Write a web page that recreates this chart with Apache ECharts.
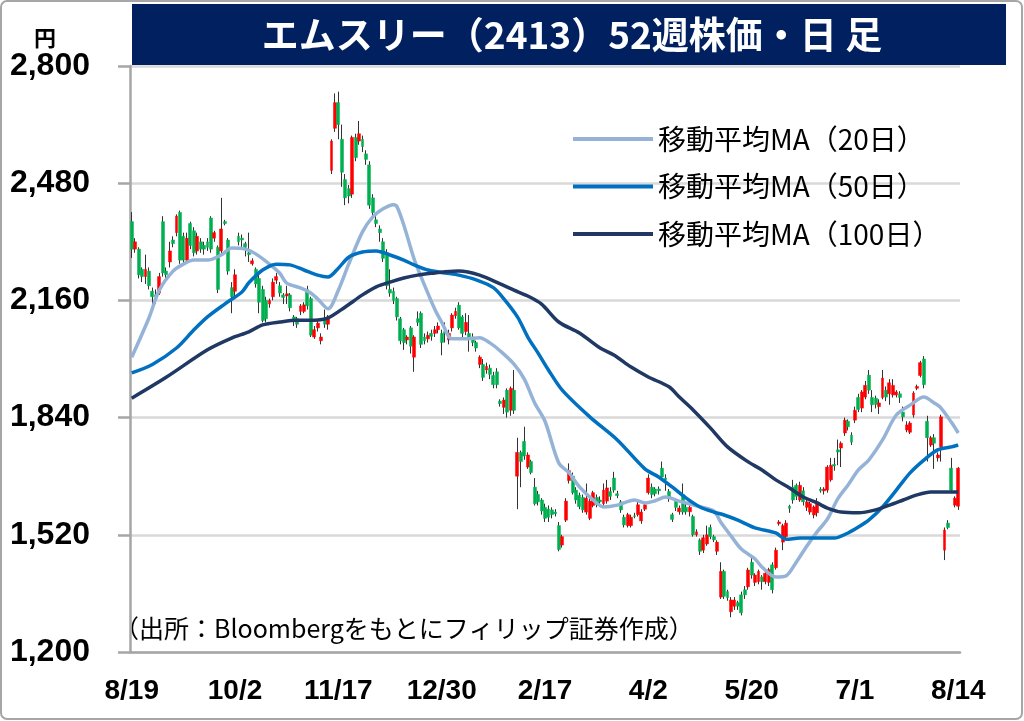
<!DOCTYPE html>
<html>
<head>
<meta charset="utf-8">
<title>エムスリー（2413）52週株価・日足</title>
<script src="https://cdn.jsdelivr.net/npm/echarts@6/dist/echarts.min.js"></script>
<style>
  html, body { margin: 0; padding: 0; background: #fff; }
  #chart { width: 1024px; height: 721px; }
</style>
</head>
<body>
<div id="chart"></div>
<script>
// 日足データ（ローソク足：始値, 終値, 安値, 高値）
var candles = [
    [2375, 2300, 2276, 2401], [2300, 2320, 2290, 2330], [2300, 2230, 2220, 2305], [2245, 2225, 2210, 2250], [2225, 2245, 2205, 2285],
    [2240, 2200, 2190, 2250], [2185, 2170, 2145, 2195], [2175, 2170, 2150, 2190], [2180, 2225, 2175, 2235], [2375, 2235, 2225, 2390],
    [2240, 2230, 2215, 2250], [2265, 2295, 2250, 2320], [2325, 2315, 2305, 2335], [2345, 2390, 2335, 2395], [2400, 2270, 2260, 2405],
    [2335, 2270, 2260, 2345], [2270, 2330, 2265, 2345], [2370, 2310, 2300, 2375], [2350, 2290, 2280, 2360], [2295, 2335, 2285, 2345],
    [2320, 2300, 2290, 2330], [2310, 2300, 2285, 2320], [2320, 2305, 2295, 2330], [2385, 2300, 2290, 2390], [2330, 2345, 2320, 2350],
    [2305, 2190, 2180, 2310], [2295, 2355, 2285, 2440], [2375, 2370, 2365, 2380], [2325, 2240, 2230, 2330], [2195, 2170, 2125, 2210],
    [2185, 2230, 2165, 2245], [2335, 2320, 2310, 2345], [2330, 2325, 2300, 2340], [2315, 2305, 2280, 2320], [2290, 2285, 2265, 2345],
    [2260, 2268, 2255, 2275], [2245, 2205, 2195, 2250], [2220, 2155, 2125, 2230], [2190, 2105, 2100, 2200], [2160, 2110, 2100, 2170],
    [2150, 2160, 2140, 2165], [2170, 2210, 2160, 2220], [2215, 2225, 2205, 2235], [2200, 2180, 2170, 2210], [2175, 2168, 2150, 2180],
    [2172, 2178, 2150, 2200], [2175, 2140, 2130, 2180], [2115, 2105, 2090, 2120], [2110, 2095, 2085, 2115], [2130, 2145, 2120, 2150],
    [2130, 2148, 2125, 2155], [2190, 2145, 2135, 2200], [2165, 2065, 2060, 2170], [2060, 2080, 2055, 2090], [2085, 2098, 2075, 2105],
    [2050, 2060, 2040, 2070], [2110, 2095, 2085, 2135], [2095, 2110, 2080, 2120], [2515, 2595, 2505, 2600], [2630, 2700, 2620, 2725],
    [2700, 2640, 2600, 2730], [2600, 2510, 2470, 2640], [2490, 2440, 2420, 2505], [2465, 2445, 2425, 2475], [2450, 2605, 2440, 2610],
    [2605, 2550, 2540, 2615], [2595, 2615, 2585, 2650], [2600, 2580, 2565, 2610], [2560, 2545, 2530, 2570], [2530, 2420, 2410, 2540],
    [2440, 2400, 2385, 2450], [2380, 2370, 2360, 2395], [2355, 2345, 2320, 2365], [2320, 2275, 2265, 2330], [2290, 2200, 2190, 2300],
    [2190, 2180, 2170, 2245], [2185, 2160, 2150, 2195], [2165, 2115, 2105, 2170], [2110, 2050, 2040, 2115], [2080, 2045, 2025, 2085],
    [2052, 2060, 2040, 2065], [2085, 2035, 2015, 2090], [2005, 2060, 1965, 2065], [2110, 2100, 2090, 2130], [2125, 2040, 2030, 2130],
    [2060, 2050, 2040, 2070], [2055, 2065, 2045, 2075], [2070, 2062, 2050, 2080], [2070, 2080, 2060, 2090], [2080, 2090, 2070, 2100],
    [2070, 2045, 2010, 2080], [2075, 2070, 2045, 2100], [2052, 2070, 2040, 2080], [2085, 2120, 2075, 2125], [2118, 2130, 2110, 2140],
    [2147, 2085, 2080, 2155], [2115, 2070, 2060, 2120], [2075, 2100, 2065, 2125], [2070, 2058, 2020, 2120], [2060, 2045, 2035, 2070],
    [2045, 2030, 2020, 2050], [1985, 2005, 1975, 2010], [1985, 1950, 1940, 2000], [1970, 1980, 1960, 1990], [1975, 1958, 1945, 1985],
    [1955, 1930, 1920, 1965], [1965, 1930, 1920, 1975], [1885, 1878, 1870, 1890], [1868, 1888, 1850, 1895], [1915, 1855, 1840, 1920],
    [1860, 1920, 1845, 1925], [1915, 1860, 1850, 1970], [1680, 1745, 1590, 1785], [1745, 1720, 1650, 1750], [1775, 1735, 1725, 1815],
    [1705, 1738, 1700, 1745], [1720, 1690, 1685, 1725], [1650, 1605, 1600, 1675], [1630, 1610, 1600, 1640], [1615, 1585, 1575, 1620],
    [1595, 1565, 1555, 1605], [1590, 1568, 1555, 1600], [1588, 1575, 1565, 1595], [1582, 1578, 1570, 1590], [1545, 1480, 1475, 1555],
    [1492, 1515, 1485, 1520], [1560, 1612, 1555, 1620], [1668, 1695, 1660, 1715], [1680, 1635, 1630, 1690], [1642, 1615, 1605, 1650],
    [1628, 1597, 1590, 1635], [1622, 1588, 1580, 1630], [1582, 1620, 1575, 1660], [1565, 1612, 1560, 1620], [1600, 1635, 1595, 1640],
    [1622, 1602, 1595, 1630], [1615, 1610, 1600, 1625], [1605, 1642, 1600, 1660], [1612, 1648, 1605, 1670], [1638, 1625, 1615, 1650],
    [1675, 1642, 1635, 1692], [1632, 1627, 1620, 1640], [1610, 1588, 1580, 1615], [1568, 1547, 1540, 1575], [1545, 1575, 1540, 1580],
    [1545, 1568, 1540, 1575], [1572, 1570, 1565, 1580], [1575, 1602, 1570, 1610], [1558, 1582, 1550, 1590], [1590, 1602, 1585, 1610],
    [1635, 1675, 1630, 1685], [1650, 1630, 1620, 1660], [1645, 1632, 1625, 1650], [1645, 1640, 1630, 1652], [1702, 1678, 1670, 1720],
    [1675, 1670, 1640, 1685], [1638, 1620, 1610, 1645], [1575, 1562, 1555, 1580], [1612, 1595, 1585, 1620], [1583, 1593, 1575, 1600],
    [1630, 1582, 1575, 1660], [1595, 1583, 1575, 1605], [1583, 1595, 1570, 1600], [1570, 1520, 1515, 1575], [1520, 1528, 1515, 1535],
    [1506, 1475, 1465, 1510], [1478, 1512, 1470, 1520], [1495, 1520, 1490, 1545], [1540, 1515, 1508, 1548], [1515, 1506, 1500, 1520],
    [1475, 1500, 1465, 1505], [1350, 1420, 1345, 1445], [1420, 1352, 1345, 1425], [1365, 1348, 1340, 1370], [1310, 1342, 1295, 1350],
    [1325, 1342, 1315, 1350], [1335, 1325, 1315, 1340], [1356, 1307, 1300, 1365], [1370, 1356, 1345, 1380], [1378, 1424, 1370, 1430],
    [1445, 1410, 1400, 1460], [1390, 1410, 1380, 1415], [1392, 1420, 1385, 1425], [1405, 1392, 1370, 1410], [1392, 1415, 1385, 1420],
    [1390, 1425, 1380, 1430], [1438, 1370, 1360, 1445], [1430, 1478, 1425, 1485], [1550, 1555, 1545, 1560], [1500, 1545, 1478, 1550],
    [1515, 1552, 1510, 1560], [1598, 1592, 1580, 1602], [1650, 1615, 1605, 1670], [1655, 1625, 1615, 1660], [1615, 1655, 1610, 1665],
    [1640, 1610, 1600, 1650], [1595, 1610, 1585, 1615], [1582, 1605, 1575, 1610], [1574, 1596, 1565, 1600], [1580, 1610, 1570, 1620],
    [1645, 1640, 1635, 1650], [1640, 1645, 1630, 1650], [1642, 1705, 1635, 1710], [1670, 1710, 1665, 1730], [1712, 1708, 1695, 1730],
    [1752, 1746, 1710, 1780], [1757, 1770, 1705, 1775], [1798, 1833, 1790, 1840], [1830, 1815, 1805, 1835], [1792, 1773, 1765, 1800],
    [1833, 1860, 1825, 1870], [1895, 1862, 1855, 1905], [1866, 1910, 1855, 1915], [1896, 1928, 1890, 1940], [1956, 1915, 1905, 1970],
    [1895, 1875, 1855, 1915], [1893, 1876, 1865, 1900], [1870, 1880, 1850, 1890], [1895, 1948, 1890, 1970], [1915, 1896, 1885, 1925],
    [1905, 1935, 1875, 1945], [1902, 1928, 1895, 1945], [1902, 1910, 1895, 1915], [1905, 1895, 1880, 1912], [1855, 1842, 1830, 1870],
    [1806, 1820, 1800, 1830], [1800, 1825, 1795, 1830], [1847, 1907, 1840, 1912], [1920, 1925, 1915, 1930], [1955, 1990, 1950, 1995],
    [2000, 1930, 1920, 2008], [1830, 1785, 1720, 1845], [1765, 1785, 1760, 1790], [1785, 1770, 1700, 1795], [1730, 1738, 1720, 1745],
    [1760, 1842, 1720, 1848], [1478, 1533, 1451, 1540], [1552, 1540, 1535, 1560], [1702, 1642, 1635, 1730], [1601, 1620, 1595, 1625],
    [1598, 1702, 1588, 1705]
];

// 移動平均（[日数インデックス, 値]、チャートから読み取り）
var ma20 = [
    [0, 2005], [5, 2112], [8, 2188], [12, 2240], [15, 2259], [18, 2270], [22, 2270], [26, 2284], [29, 2303], [33, 2300],
    [36, 2287], [40, 2259], [43, 2234], [45, 2207], [49, 2194], [52, 2180], [54, 2164], [57, 2137], [60, 2188], [63, 2259],
    [67, 2347], [70, 2388], [73, 2410], [76, 2421], [77, 2416], [79, 2366], [82, 2273], [85, 2202], [88, 2136], [90, 2101],
    [93, 2055], [97, 2055], [101, 2058], [104, 2044], [107, 2022], [111, 1986], [114, 1945], [117, 1880], [120, 1830], [124, 1716],
    [127, 1689], [130, 1651], [134, 1615], [137, 1596], [141, 1601], [146, 1615], [149, 1607], [152, 1613], [155, 1623], [159, 1612],
    [164, 1599], [169, 1585], [171, 1555], [174, 1517], [177, 1481], [181, 1454], [183, 1432], [187, 1405], [190, 1408], [193, 1446],
    [196, 1489], [199, 1528], [202, 1563], [205, 1618], [208, 1656], [211, 1697], [214, 1724], [218, 1779], [222, 1847], [226, 1874],
    [230, 1896], [233, 1880], [235, 1866], [238, 1827], [240, 1798]
];
var ma50 = [
    [0, 1962], [6, 1985], [13, 2030], [18, 2079], [22, 2115], [27, 2150], [32, 2183], [34, 2208], [38, 2243], [42, 2259],
    [46, 2257], [50, 2243], [54, 2229], [57, 2224], [60, 2248], [63, 2278], [67, 2292], [71, 2295], [75, 2284], [79, 2270],
    [82, 2257], [86, 2243], [91, 2235], [95, 2229], [100, 2216], [105, 2195], [108, 2165], [112, 2115], [115, 2060], [118, 2016],
    [121, 1970], [125, 1915], [133, 1842], [141, 1779], [149, 1700], [153, 1678], [157, 1650], [161, 1620], [165, 1596], [169, 1582],
    [172, 1574], [176, 1560], [181, 1539], [187, 1525], [190, 1508], [194, 1511], [199, 1511], [204, 1511], [208, 1525], [211, 1541],
    [214, 1560], [218, 1596], [222, 1642], [226, 1689], [230, 1724], [234, 1752], [238, 1760], [240, 1765]
];
var ma100 = [
    [0, 1893], [10, 1950], [22, 2025], [29, 2057], [34, 2074], [38, 2093], [43, 2101], [48, 2106], [53, 2106], [57, 2112],
    [62, 2142], [67, 2175], [71, 2197], [75, 2210], [79, 2221], [83, 2229], [88, 2235], [91, 2238], [95, 2240], [101, 2229],
    [107, 2205], [111, 2188], [115, 2172], [119, 2150], [124, 2101], [130, 2071], [136, 2030], [140, 2011], [145, 1978], [150, 1951],
    [156, 1924], [159, 1896], [163, 1861], [168, 1812], [173, 1760], [179, 1719], [183, 1697], [187, 1670], [191, 1648], [195, 1623],
    [199, 1607], [202, 1593], [206, 1582], [211, 1580], [216, 1588], [220, 1601], [224, 1615], [228, 1629], [232, 1637], [236, 1637],
    [240, 1637]
];

// 目盛りラベル（30営業日ごと）
var tickLabels = ['8/19', '10/2', '11/17', '12/30', '2/17', '4/2', '5/20', '7/1', '8/14'];
var yTicks = [1200, 1520, 1840, 2160, 2480, 2800];

var labelStep = 30;
var dates = [];
for (var i = 0; i < candles.length; i++) {
    dates.push(i % labelStep === 0 ? tickLabels[i / labelStep] : '');
}

// 実体部分だけのデータ（ヒゲは別系列で描く）
var bodies = candles.map(function (d) {
    return [d[0], d[1], Math.min(d[0], d[1]), Math.max(d[0], d[1])];
});

var jpFont = '"Noto Sans CJK JP", sans-serif';
var numFont = '"Liberation Sans", Arial, sans-serif';

var chart = echarts.init(document.getElementById('chart'));

var option = {
    animation: false,
    backgroundColor: '#fff',
    grid: {
        left: 130,
        right: 64,
        top: 66,
        bottom: 69
    },
    legend: {
        orient: 'vertical',
        left: 568,
        top: 119,
        icon: 'rect',
        itemWidth: 80,
        itemHeight: 4,
        itemGap: 17.5,
        textStyle: {
            fontFamily: jpFont,
            fontSize: 28,
            lineHeight: 30,
            color: '#000'
        },
        data: ['移動平均MA（20日）', '移動平均MA（50日）', '移動平均MA（100日）']
    },
    xAxis: {
        type: 'category',
        data: dates,
        boundaryGap: true,
        axisLine: { lineStyle: { color: '#A6A6A6', width: 2.5 } },
        axisTick: {
            interval: labelStep - 1,
            length: 9,
            lineStyle: { color: '#A6A6A6', width: 2.5 }
        },
        axisLabel: {
            interval: labelStep - 1,
            margin: 25,
            color: '#000',
            fontFamily: numFont,
            fontWeight: 'bold',
            fontSize: 28
        },
        splitLine: { show: false }
    },
    yAxis: {
        type: 'value',
        min: yTicks[0],
        max: yTicks[yTicks.length - 1],
        interval: yTicks[1] - yTicks[0],
        axisLine: { show: true, lineStyle: { color: '#A6A6A6', width: 2.5 } },
        axisTick: { show: true, length: 12, lineStyle: { color: '#A6A6A6', width: 2.5 } },
        axisLabel: {
            margin: 40,
            color: '#000',
            fontFamily: numFont,
            fontWeight: 'bold',
            fontSize: 32,
            formatter: function (v) {
                return String(v).replace(/\B(?=(\d{3})+(?!\d))/g, ',');
            }
        },
        splitLine: { lineStyle: { color: '#D9D9D9', width: 2.5 } }
    },
    graphic: [
        {   // 外枠
            type: 'rect',
            shape: { x: 1, y: 1, width: 1021, height: 718, r: 6 },
            style: { fill: 'none', stroke: '#A6A6A6', lineWidth: 2 },
            silent: true
        },
        {   // タイトル帯
            type: 'rect',
            shape: { x: 132, y: 4, width: 874, height: 61 },
            style: { fill: '#002060' },
            silent: true
        },
        {
            type: 'text',
            x: 572,
            y: 35,
            style: {
                text: 'エムスリー（2413）52週株価・日 足',
                fill: '#fff',
                font: 'bold 37px ' + jpFont,
                textAlign: 'center',
                textVerticalAlign: 'middle'
            }
        },
        {
            type: 'text',
            x: 45,
            y: 38,
            style: {
                text: '円',
                fill: '#000',
                font: 'bold 22px ' + jpFont,
                textAlign: 'center',
                textVerticalAlign: 'middle'
            }
        },
        {
            type: 'text',
            x: 114,
            y: 628,
            style: {
                text: '（出所：Bloombergをもとにフィリップ証券作成）',
                fill: '#000',
                font: '25px ' + jpFont,
                textAlign: 'left',
                textVerticalAlign: 'middle'
            }
        }
    ],
    series: [
        {   // ヒゲ
            name: 'ヒゲ',
            type: 'candlestick',
            data: candles,
            barWidth: 1,
            itemStyle: {
                color: '#333',
                color0: '#333',
                borderColor: '#333',
                borderColor0: '#333',
                borderWidth: 1
            },
            z: 2
        },
        {   // 実体
            name: '日足',
            type: 'candlestick',
            data: bodies,
            barWidth: 3.4,
            itemStyle: {
                color: '#FF0000',
                color0: '#00B050',
                borderColor: '#FF0000',
                borderColor0: '#00B050',
                borderWidth: 0.5
            },
            z: 3
        },
        {
            name: '移動平均MA（20日）',
            type: 'line',
            data: ma20,
            smooth: 0.3,
            showSymbol: false,
            lineStyle: { color: '#95B3D7', width: 3.5 },
            itemStyle: { color: '#95B3D7' },
            z: 4
        },
        {
            name: '移動平均MA（50日）',
            type: 'line',
            data: ma50,
            smooth: 0.3,
            showSymbol: false,
            lineStyle: { color: '#0070C0', width: 3.5 },
            itemStyle: { color: '#0070C0' },
            z: 4
        },
        {
            name: '移動平均MA（100日）',
            type: 'line',
            data: ma100,
            smooth: 0.3,
            showSymbol: false,
            lineStyle: { color: '#1F3864', width: 3.5 },
            itemStyle: { color: '#1F3864' },
            z: 4
        }
    ]
};
chart.setOption(option);
</script>
</body>
</html>
